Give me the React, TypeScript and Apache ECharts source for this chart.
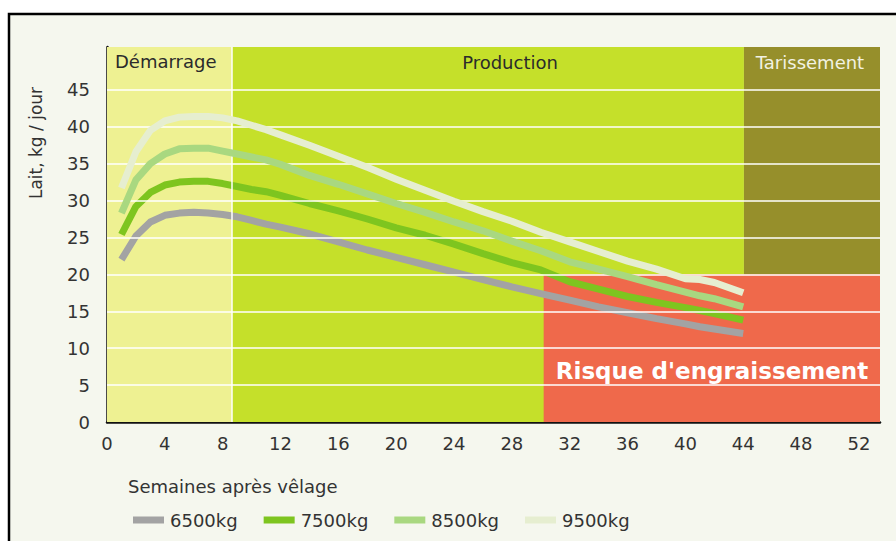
import React, { useEffect, useRef } from "react";
import * as echarts from "echarts";

const weeks = [1, 2, 3, 4, 5, 6, 7, 8, 9, 10, 11, 12, 14, 16, 18, 20, 22, 24, 26, 28, 30, 32, 34, 36, 38, 40, 41, 42, 44];
const milk6500 = [22.0, 25.2, 27.1, 28.0, 28.3, 28.4, 28.3, 28.1, 27.8, 27.3, 26.8, 26.4, 25.5, 24.4, 23.3, 22.3, 21.3, 20.3, 19.3, 18.3, 17.4, 16.5, 15.6, 14.8, 14.0, 13.3, 12.9, 12.6, 12.0];
const milk7500 = [25.4, 29.2, 31.1, 32.1, 32.5, 32.6, 32.6, 32.3, 31.9, 31.5, 31.2, 30.7, 29.6, 28.6, 27.5, 26.3, 25.3, 24.1, 22.8, 21.6, 20.6, 19.0, 18.0, 17.0, 16.2, 15.5, 15.1, 14.7, 13.8];
const milk8500 = [28.3, 32.8, 35.0, 36.3, 37.0, 37.1, 37.1, 36.7, 36.3, 35.9, 35.5, 34.9, 33.4, 32.2, 30.9, 29.6, 28.4, 27.1, 25.9, 24.5, 23.2, 21.7, 20.7, 19.7, 18.6, 17.6, 17.1, 16.7, 15.6];
const milk9500 = [31.7, 36.6, 39.5, 40.8, 41.3, 41.4, 41.4, 41.2, 40.8, 40.2, 39.6, 38.9, 37.5, 36.0, 34.5, 32.9, 31.4, 29.9, 28.5, 27.2, 25.7, 24.4, 23.1, 21.8, 20.7, 19.4, 19.3, 18.9, 17.5];

const seriesNames = ["6500kg", "7500kg", "8500kg", "9500kg"];
const seriesValues = [milk6500, milk7500, milk8500, milk9500];
const seriesColors = ["#a3a3a3", "#7ec51f", "#a9d880", "#e6eed0"];

const yTicks = [5, 10, 15, 20, 25, 30, 35, 40, 45];
const xTickMax = 52;
const yTickMax = 45;
const phaseNames = ["Démarrage", "Production", "Tarissement"];
const phaseBounds = [0, 8.64, 44.05, 53.46];
const phaseColors = ["#eef192", "#c5e02a", "#968f2b"];
const riskStart = 30.2;
const riskLevel = 20;
const riskLabel = "Risque d'engraissement";
const yAxisTitle = "Lait, kg / jour";
const xAxisTitle = "Semaines après vêlage";

const X_MAX = 53.46;
const Y_MAX = 50.8;
const FONT = "DejaVu Sans";

export default function App() {
  const ref = useRef<HTMLDivElement>(null);
  useEffect(() => {
    if (!ref.current) return;
    const chart = echarts.init(ref.current, null, { renderer: "svg" });
    const bandAreas: any[] = phaseNames.map((n, i) => [
      { xAxis: phaseBounds[i], yAxis: 0, itemStyle: { color: phaseColors[i] } },
      { xAxis: phaseBounds[i + 1], yAxis: Y_MAX },
    ]);
    bandAreas.push([
      { xAxis: riskStart, yAxis: 0, itemStyle: { color: "#ef694b" } },
      { xAxis: X_MAX, yAxis: riskLevel },
    ]);
    const gridLines: any[] = yTicks.map((v) => ({ yAxis: v }));
    gridLines.push({ xAxis: phaseBounds[1] });

    chart.setOption({
      animation: false,
      backgroundColor: "#ffffff",
      graphic: [
        {
          type: "rect",
          z: -10,
          shape: { x: 9, y: 14, width: 900, height: 540 },
          style: { fill: "#f5f7ee", stroke: "#000", lineWidth: 2.5 },
        },
        {
          type: "text",
          left: 115,
          top: 52,
          z: 10,
          style: { text: phaseNames[0], font: `18px "${FONT}"`, fill: "#2b2b2b" },
        },
        {
          type: "text",
          x: 510,
          y: 62,
          z: 10,
          style: { text: phaseNames[1], font: `18px "${FONT}"`, fill: "#2b2b2b", align: "center", verticalAlign: "middle" },
        },
        {
          type: "text",
          x: 810,
          y: 62,
          z: 10,
          style: { text: phaseNames[2], font: `18px "${FONT}"`, fill: "#f2f2e2", align: "center", verticalAlign: "middle" },
        },
        {
          type: "text",
          x: 712,
          y: 371,
          z: 10,
          style: { text: riskLabel, font: `bold 23px "${FONT}"`, fill: "#ffffff", align: "center", verticalAlign: "middle" },
        },
        {
          type: "text",
          x: 36,
          y: 143,
          rotation: Math.PI / 2,
          z: 10,
          style: { text: yAxisTitle, font: `17px "${FONT}"`, fill: "#333", align: "center", verticalAlign: "middle" },
        },
        {
          type: "text",
          left: 128,
          top: 477,
          z: 10,
          style: { text: xAxisTitle, font: `18px "${FONT}"`, fill: "#333" },
        },
      ],
      grid: { left: 107, top: 47, right: 896 - 880, bottom: 541 - 422, containLabel: false },
      legend: {
        data: seriesNames,
        left: 133,
        top: 510,
        icon: "rect",
        itemWidth: 31,
        itemHeight: 7,
        itemGap: 26,
        textStyle: { fontFamily: FONT, fontSize: 18, color: "#333", lineHeight: 20, padding: [0, 0, 0, 1] },
        padding: 0,
      },
      xAxis: {
        type: "value",
        min: 0,
        max: X_MAX,
        interval: 4,
        axisLine: { show: true, lineStyle: { color: "#111", width: 2.5 } },
        axisTick: { show: false },
        splitLine: { show: false },
        axisLabel: {
          margin: 12,
          fontFamily: FONT,
          fontSize: 18,
          color: "#333",
          formatter: (v: number) => (v % 4 === 0 && v <= xTickMax ? String(v) : ""),
        },
      },
      yAxis: {
        type: "value",
        min: 0,
        max: Y_MAX,
        interval: 5,
        axisLine: { show: true, lineStyle: { color: "#111", width: 2.5 } },
        axisTick: { show: false },
        splitLine: { show: false },
        axisLabel: {
          margin: 17,
          fontFamily: FONT,
          fontSize: 18,
          color: "#333",
          formatter: (v: number) => (v % 5 === 0 && v <= yTickMax ? String(v) : ""),
        },
      },
      series: [
        {
          type: "line",
          name: "bands",
          data: [],
          z: 1,
          silent: true,
          markArea: { silent: true, data: bandAreas, label: { show: false } },
        },
        {
          type: "line",
          name: "grid",
          data: [],
          z: 2,
          silent: true,
          markLine: {
            silent: true,
            symbol: "none",
            label: { show: false },
            lineStyle: { color: "#ffffff", width: 1.5, type: "solid" },
            data: gridLines,
          },
        },
        ...seriesNames.map((name, i) => ({
          type: "line",
          name,
          z: 3 + i,
          data: weeks.map((w, j) => [w, seriesValues[i][j]]),
          showSymbol: false,
          symbol: "none",
          color: seriesColors[i],
          lineStyle: { color: seriesColors[i], width: 7, cap: "butt", join: "round" },
        })),
      ],
    });
    return () => chart.dispose();
  }, []);
  return (
    <div
      ref={ref}
      style={{ position: "fixed", left: 0, top: 0, width: 896, height: 541 }}
    />
  );
}
